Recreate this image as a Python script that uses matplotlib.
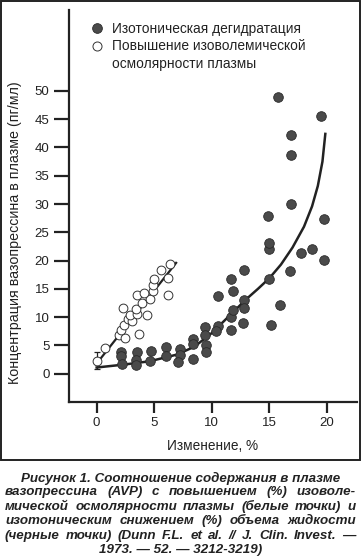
"""Recreate Figure 1: plasma vasopressin vs % change (Dunn et al., 1973)."""

import matplotlib
matplotlib.use("Agg")
import matplotlib.pyplot as plt
from matplotlib.lines import Line2D
from matplotlib.patches import Rectangle

plt.rcParams["font.family"] = ["Liberation Sans", "DejaVu Sans"]

# --- data: isotonic dehydration (dark points) ---
dark_x = [2.1, 2.1, 2.2, 3.5, 3.4, 3.4, 4.7, 4.6, 6.0, 6.0, 7.2, 7.2, 7.1,
          8.4, 8.4, 8.4, 9.4, 9.4, 9.5, 9.5, 10.5, 10.4, 10.5, 11.7, 11.8,
          11.7, 11.8, 11.7, 12.8, 12.8, 12.8, 12.7, 15.0, 15.1, 15.9, 15.0,
          15.0, 14.9, 15.7, 16.9, 16.9, 16.9, 16.8, 17.7, 18.7, 19.5, 19.7, 19.7]
dark_y = [3.8, 3.1, 1.7, 3.8, 2.5, 1.5, 4.0, 2.2, 4.7, 3.1, 4.3, 3.3, 2.1,
          6.2, 5.3, 2.6, 8.3, 6.9, 5.1, 3.9, 8.4, 7.5, 13.8, 10.0, 11.2,
          7.8, 14.7, 16.8, 18.4, 13.0, 11.7, 9.0, 16.7, 8.7, 12.2, 22.1,
          23.1, 27.8, 48.9, 42.2, 38.7, 30.0, 18.2, 21.3, 22.1, 45.5, 27.4, 20.1]

# --- data: isovolemic osmolality increase (open points) ---
open_x = [0.75, 1.9, 2.5, 2.1, 3.7, 2.4, 2.7, 3.1, 2.3, 2.9, 3.5, 4.4,
          3.4, 3.9, 4.6, 3.5, 4.1, 4.9, 4.9, 5.0, 6.2, 5.6, 6.2, 6.4]
open_y = [4.6, 6.9, 6.4, 7.8, 7.1, 8.6, 9.6, 9.4, 11.6, 10.4, 10.6, 10.3,
          11.4, 12.5, 13.2, 14.0, 14.2, 14.6, 15.7, 16.8, 14.0, 18.4, 16.9, 19.4]

# baseline point with error bar
base_x, base_y, base_err = 0.0, 2.3, 1.5

# fitted curves
fit_open_x = [0.0, 6.9]
fit_open_y = [1.8, 19.6]
fit_dark_x = [0.0, 2.3, 4.6, 7.0, 8.5, 10.0, 11.5, 13.0, 14.0, 15.0, 16.0, 17.0,
              18.0, 18.7, 19.2, 19.6, 19.85]
fit_dark_y = [1.1, 1.6, 2.2, 3.4, 4.8, 7.2, 10.2, 13.2, 15.0, 16.9, 19.3, 22.3,
              26.0, 29.6, 33.2, 37.5, 42.4]

x_ticks = [0, 5, 10, 15, 20]
y_ticks = [0, 5, 10, 15, 20, 25, 30, 35, 40, 45, 50]

legend_labels = ["Изотоническая дегидратация", "Повышение изоволемической", "осмолярности плазмы"]
x_label = "Изменение, %"
y_label = "Концентрация вазопрессина в плазме (пг/мл)"
caption_lines = [
    "Рисунок 1. Соотношение содержания в плазме",
    "вазопрессина (AVP) с повышением (%) изоволе-",
    "мической осмолярности плазмы (белые точки) и",
    "изотоническим снижением (%) объема жидкости",
    "(черные точки) (Dunn F.L. et al. // J. Clin. Invest. —",
    "1973. — 52. — 3212-3219)",
]

# --- style ---
W, H, DPI = 361, 558, 100
DARK = "#4a4a4a"
INK = "#222222"
FS = 9.5
CAP_FS = 9.6


def fx(px):
    return px / W


def fy(py):
    return 1 - py / H


fig = plt.figure(figsize=(W / DPI, H / DPI), dpi=DPI)
ax = fig.add_axes([fx(69), fy(402), fx(357) - fx(69), fy(10) - fy(402)])
ax.set_xlim(-2.4, 22.6)
ax.set_ylim(-5, 64.3)

ax.plot(fit_open_x, fit_open_y, color=INK, lw=1.6, zorder=2)
ax.plot(fit_dark_x, fit_dark_y, color=INK, lw=1.8, zorder=2)
ax.errorbar([base_x], [base_y], yerr=[base_err], fmt="none", ecolor=INK,
            elinewidth=0.9, capsize=2.5, capthick=0.9, zorder=3)
ax.scatter(open_x + [base_x], open_y + [base_y], s=40, facecolor="white",
           edgecolor="#333333", linewidth=0.7, zorder=4)
ax.scatter(dark_x, dark_y, s=48, facecolor=DARK, edgecolor="#2a2a2a",
           linewidth=0.6, zorder=5)

for side in ("top", "right"):
    ax.spines[side].set_visible(False)
for side in ("left", "bottom"):
    ax.spines[side].set_linewidth(1.6)
    ax.spines[side].set_color(INK)

ax.set_xticks(x_ticks)
ax.set_yticks(y_ticks)
ax.tick_params(axis="y", length=11, width=1.6, color=INK, labelsize=FS, pad=3, labelcolor=INK)
ax.tick_params(axis="x", length=8, width=1.6, color=INK, labelsize=FS, pad=3, labelcolor=INK)
ax.set_xlabel(x_label, fontsize=9.8, color=INK, labelpad=7)
fig.text(fx(15), fy(233), y_label, rotation=90, ha="center", va="center",
         fontsize=10.3, color=INK)

# legend: third row continues the second label
handles = [
    Line2D([], [], ls="none", marker="o", ms=7, mfc=DARK, mec="#2a2a2a", mew=0.6),
    Line2D([], [], ls="none", marker="o", ms=6.5, mfc="white", mec="#333333", mew=0.7),
    Line2D([], [], ls="none", marker=None),
]
fig.legend(handles, legend_labels, loc="upper left",
           bbox_to_anchor=(fx(90), fy(22)), frameon=False, fontsize=9.9,
           borderpad=0, borderaxespad=0, handlelength=1.0, handletextpad=0.6,
           labelspacing=0.25, labelcolor=INK)

# border around the chart
fig.patches.append(Rectangle((fx(1), fy(460)), fx(359), fy(1) - fy(460),
                             transform=fig.transFigure, fill=False,
                             edgecolor=INK, linewidth=1.4))

# caption: first and last lines centred, the rest justified
renderer = fig.canvas.get_renderer()
cap_kw = dict(fontsize=CAP_FS, fontweight="bold", fontstyle="italic", color=INK, va="center")
left_px, right_px = 5, 356
y_px = 478
for i, line in enumerate(caption_lines):
    if i == 0 or i == len(caption_lines) - 1:
        fig.text(0.5, fy(y_px), line, ha="center", **cap_kw)
    else:
        words = line.split(" ")
        texts = [fig.text(0, fy(y_px), w, ha="left", **cap_kw) for w in words]
        widths = [t.get_window_extent(renderer).width for t in texts]
        gap = (right_px - left_px - sum(widths)) / (len(words) - 1)
        x = left_px
        for t, w in zip(texts, widths):
            t.set_x(fx(x))
            x += w + gap
    y_px += 14.4

fig.savefig("out.png", dpi=DPI)
